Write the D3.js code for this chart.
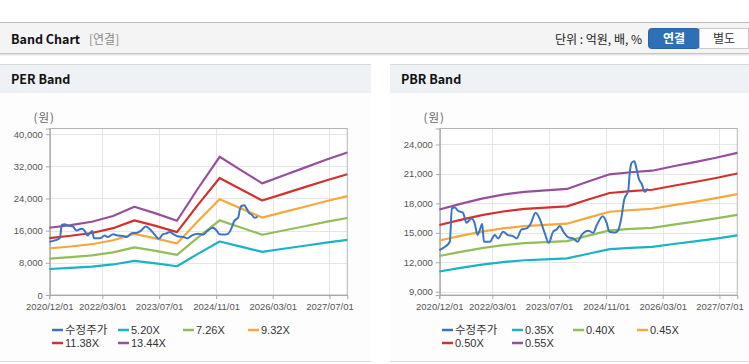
<!DOCTYPE html>
<html><head><meta charset="utf-8">
<script src="https://cdn.jsdelivr.net/npm/d3@7"></script>
<style>
body{margin:0;background:#fff;}
svg{display:block;font-family:"Liberation Sans",Arial,sans-serif;}
.kr{font-family:"Noto Sans CJK KR","Liberation Sans",sans-serif;}
</style>
</head><body>
<svg id="c" width="749" height="364"></svg>
<script>
// ---------- DATA ----------
const bandDates = ["2020-12-01","2021-06-01","2021-12-01","2022-06-01","2022-12-01","2023-06-01","2023-12-01",
  "2024-06-01","2024-12-01","2025-06-01","2025-12-01","2026-06-01","2026-12-01","2027-06-01","2027-12-01"];

const perNames = ["5.20X","7.26X","9.32X","11.38X","13.44X"];
const per520  = [6469,6729,7046,7592,8481,7852,7145,10296,13296,12017,10738,11492,12251,13010,13718];
const per726  = [9031,9394,9837,10600,11841,10963,9975,14375,18564,16778,14992,16045,17105,18165,19152];
const per932  = [11594,12060,12629,13607,15201,14073,12806,18454,23831,21539,19246,20597,21958,23319,24586];
const per1138 = [14157,14726,15420,16615,18561,17184,15636,22532,29099,26299,23500,25150,26811,28473,30020];
const per1344 = [16720,17390,18210,19630,21940,20290,18460,26600,34370,31060,27750,29700,31670,33630,35450];

const pbrNames = ["0.35X","0.40X","0.45X","0.50X","0.55X"];
const pbr035 = [11060,11424,11767,12023,12205,12296,12390,12873,13339,13472,13573,13860,14126,14413,14732];
const pbr040 = [12640,13056,13448,13740,13948,14052,14160,14712,15244,15396,15512,15840,16144,16472,16836];
const pbr045 = [14220,14688,15129,15458,15692,15809,15930,16551,17150,17321,17451,17820,18162,18531,18941];
const pbr050 = [15800,16320,16810,17175,17435,17565,17700,18390,19055,19245,19390,19800,20180,20590,21045];
const pbr055 = [17380,17952,18491,18893,19179,19322,19470,20229,20961,21170,21329,21780,22198,22649,23150];

const priceName = "수정주가";
const priceDates = ["2020-12-01","2021-01-19","2021-03-01","2021-03-19","2021-04-13","2021-05-10","2021-06-22",
  "2021-07-22","2021-09-04","2021-10-01","2021-10-25","2021-11-13","2021-12-04","2021-12-19","2022-02-07",
  "2022-03-22","2022-04-19","2022-06-01","2022-07-13","2022-08-25","2022-09-25","2022-11-07","2022-12-19",
  "2023-01-25","2023-03-07","2023-04-13","2023-05-25","2023-06-28","2023-08-04","2023-09-04","2023-10-01",
  "2023-11-01","2023-12-13","2024-01-25","2024-03-01","2024-04-04","2024-06-01","2024-07-13","2024-08-13",
  "2024-10-04","2024-11-07","2024-11-28","2025-01-16","2025-02-10","2025-03-13","2025-04-04","2025-05-10",
  "2025-05-22","2025-06-07","2025-07-01","2025-07-19","2025-08-10","2025-09-01","2025-09-28","2025-10-22"];
const priceValues = [13240,13580,14090,17490,17590,17250,17050,
  16030,16470,15960,14770,15280,15890,14090,14090,
  14770,14430,15110,14770,14670,14430,15350,15450,
  15960,17040,16370,14940,13980,15110,15350,15690,
  15110,14540,14430,14090,14770,15210,15010,15790,
  16700,15960,15110,15040,15210,16630,18330,19350,
  21050,22130,22300,21560,20440,20030,19180,19520];

const xTickLabels = ["2020/12/01","2022/03/01","2023/07/01","2024/11/01","2026/03/01","2027/07/01"];
const perYTicks = [0,8000,16000,24000,32000,40000];
const pbrYTicks = [9000,12000,15000,18000,21000,24000];
const xDomain = ["2020-12-01","2027-12-01"];

const colors = {price:"#3a74c6", b1:"#1cb2c6", b2:"#93bd58", b3:"#f5a83c", b4:"#d2322d", b5:"#974f9d"};
const bandColors = [colors.b1, colors.b2, colors.b3, colors.b4, colors.b5];

// ---------- DRAW ----------
const parse = d3.timeParse("%Y-%m-%d");
const tickParse = d3.timeParse("%Y/%m/%d");
const svg = d3.select("#c");

// page header
svg.append("rect").attr("x",0).attr("y",22).attr("width",749).attr("height",31).attr("fill","#f4f4f4");
svg.append("line").attr("x1",0).attr("x2",749).attr("y1",22.5).attr("y2",22.5).attr("stroke","#bdbdbd");
svg.append("line").attr("x1",0).attr("x2",749).attr("y1",53.5).attr("y2",53.5).attr("stroke","#c4c4c4");
svg.append("line").attr("x1",0).attr("x2",749).attr("y1",54.5).attr("y2",54.5).attr("stroke","#e4e4e4");
svg.append("line").attr("x1",0).attr("x2",749).attr("y1",55.5).attr("y2",55.5).attr("stroke","#f2f2f2");
svg.append("text").attr("class","kr").attr("x",11).attr("y",44).attr("font-size",12.5).attr("font-weight","bold")
  .attr("fill","#111").text("Band Chart");
svg.append("text").attr("class","kr").attr("x",89).attr("y",44).attr("font-size",12).attr("fill","#8a8a8a").text("[연결]");
svg.append("text").attr("class","kr").attr("x",642).attr("y",44).attr("text-anchor","end").attr("font-size",12)
  .attr("fill","#222").text("단위 : 억원, 배, %");
svg.append("rect").attr("x",648.5).attr("y",28.5).attr("width",51).attr("height",20).attr("rx",3)
  .attr("fill","#2f6fb7").attr("stroke","#2a63a6");
svg.append("rect").attr("x",699.5).attr("y",28.5).attr("width",49).attr("height",20)
  .attr("fill","#fdfdfd").attr("stroke","#c8c8c8");
svg.append("text").attr("class","kr").attr("x",674).attr("y",43).attr("text-anchor","middle").attr("font-size",12)
  .attr("font-weight","bold").attr("fill","#fff").text("연결");
svg.append("text").attr("class","kr").attr("x",724).attr("y",43).attr("text-anchor","middle").attr("font-size",12)
  .attr("fill","#333").text("별도");

function drawPanel(px, pw, title, plotL, yDomain, yTicks, bandNames, bandValues, legendPos) {
  const g = svg.append("g");
  g.append("rect").attr("x",px).attr("y",64).attr("width",pw).attr("height",297).attr("fill","#fdfdfd");
  g.append("rect").attr("x",px).attr("y",64).attr("width",pw).attr("height",29).attr("fill","#eef1f6");
  g.append("line").attr("x1",px).attr("x2",px+pw).attr("y1",64.5).attr("y2",64.5).attr("stroke","#d9d9d9");
  g.append("line").attr("x1",px).attr("x2",px+pw).attr("y1",361.5).attr("y2",361.5).attr("stroke","#d9d9d9");
  g.append("text").attr("class","kr").attr("x",px+11).attr("y",84).attr("font-size",12.5).attr("font-weight","bold")
    .attr("fill","#111").text(title);

  const top = 128.5, bottom = 295;
  const x = d3.scaleTime().domain(xDomain.map(parse)).range([plotL, plotL+298]);
  const y = d3.scaleLinear().domain(yDomain).range([bottom, top]);

  g.append("rect").attr("x",plotL).attr("y",top).attr("width",298).attr("height",bottom-top).attr("fill","#fff");
  const xt = xTickLabels.map(tickParse);
  // grid
  g.selectAll(null).data(yTicks).join("line")
    .attr("x1",plotL).attr("x2",plotL+298).attr("y1",d=>Math.round(y(d))+0.5).attr("y2",d=>Math.round(y(d))+0.5)
    .attr("stroke","#e6e6e6");
  g.selectAll(null).data(xt.slice(1)).join("line")
    .attr("x1",d=>Math.round(x(d))+0.5).attr("x2",d=>Math.round(x(d))+0.5).attr("y1",top).attr("y2",bottom)
    .attr("stroke","#e6e6e6");
  // frame
  g.append("rect").attr("x",plotL+0.5).attr("y",top).attr("width",297.5).attr("height",bottom-top)
    .attr("fill","none").attr("stroke","#b4b4b4");
  // axes
  const yAxis = d3.axisLeft(y).tickValues(yTicks).tickSize(4).tickPadding(3).tickFormat(d3.format(","));
  const ya = g.append("g").attr("transform",`translate(${plotL+0.5},0)`).call(yAxis);
  ya.select(".domain").attr("stroke","#a8a8a8");
  ya.selectAll(".tick line").attr("stroke","#a8a8a8");
  ya.selectAll("text").attr("font-size",9.5).attr("fill","#555").attr("font-family","Liberation Sans, Arial, sans-serif");
  const xAxis = d3.axisBottom(x).tickValues(xt).tickSize(4).tickPadding(4).tickFormat(d3.timeFormat("%Y/%m/%d"));
  const xa = g.append("g").attr("transform",`translate(0,${bottom})`).call(xAxis);
  xa.select(".domain").attr("stroke","#a8a8a8");
  xa.selectAll(".tick line").attr("stroke","#a8a8a8");
  xa.selectAll("text").attr("font-size",9.5).attr("fill","#555").attr("font-family","Liberation Sans, Arial, sans-serif");
  g.append("text").attr("class","kr").attr("x",plotL-5).attr("y",122).attr("text-anchor","middle")
    .attr("font-size",11.5).attr("letter-spacing",1).attr("fill","#666").text("(원)");

  const line = d3.line().x(d=>x(d[0])).y(d=>y(d[1]));
  bandValues.forEach((vals,i)=>{
    g.append("path").datum(bandDates.map((d,j)=>[parse(d),vals[j]]))
      .attr("d",line).attr("fill","none").attr("stroke",bandColors[i]).attr("stroke-width",2.2)
      .attr("stroke-linejoin","round");
  });
  const pline = d3.line().x(d=>x(d[0])).y(d=>y(d[1])).curve(d3.curveMonotoneX);
  g.append("path").datum(priceDates.map((d,j)=>[parse(d),priceValues[j]]))
    .attr("d",pline).attr("fill","none").attr("stroke",colors.price).attr("stroke-width",2)
    .attr("stroke-linejoin","round");

  // legend
  const names = [priceName].concat(bandNames);
  const cols = [colors.price].concat(bandColors);
  names.forEach((n,i)=>{
    const [lx,ly] = legendPos[i];
    g.append("line").attr("x1",lx).attr("x2",lx+11).attr("y1",ly).attr("y2",ly)
      .attr("stroke",cols[i]).attr("stroke-width",2.5);
    g.append("text").attr("class", i===0 ? "kr" : null).attr("x",lx+13).attr("y",ly+4)
      .attr("font-size", i===0 ? 11.5 : 11).attr("fill","#333").text(n);
  });
}

drawPanel(0, 371, "PER Band", 49.3, [0, 41400], perYTicks, perNames,
  [per520, per726, per932, per1138, per1344],
  [[52,330],[118,330],[183,330],[248,330],[52,343],[118,343]]);
drawPanel(390, 359, "PBR Band", 439.3, [8665, 25630], pbrYTicks, pbrNames,
  [pbr035, pbr040, pbr045, pbr050, pbr055],
  [[442,330],[512,330],[573,330],[637,330],[442,343],[512,343]]);
</script>
</body></html>
